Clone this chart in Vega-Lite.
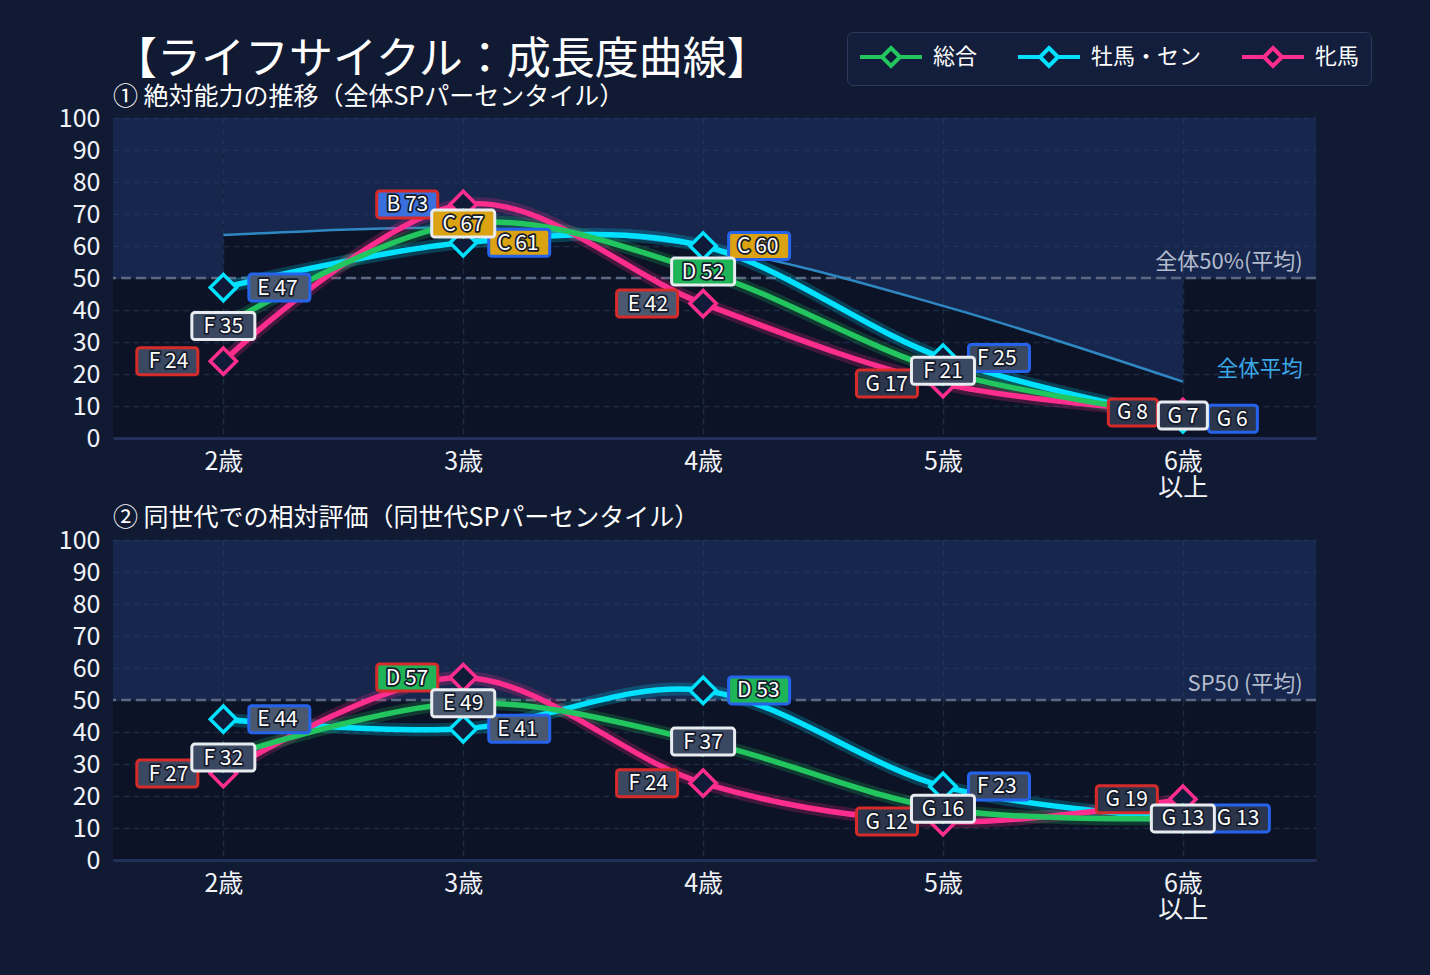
{
  "$schema": "https://vega.github.io/schema/vega-lite/v6.json",
  "background": "#111a33",
  "padding": {"left": 58, "top": 31, "right": 63, "bottom": 53},
  "autosize": {"type": "pad"},
  "config": {
    "font": "Noto Sans CJK JP",
    "view": {"stroke": null, "fill": "#0c1326"},
    "axis": {
      "gridColor": "#1d2a45", "gridDash": [6, 4], "gridWidth": 1.5, "labelOverlap": false,
      "ticks": false, "labelColor": "#f2f4f8", "labelFontSize": 25, "labelFont": "Noto Sans CJK JP", "title": null
    }
  },
  "datasets": {
    "abs": [
      {"age": 2, "series": "牡馬・セン", "grade": "E", "v": 47},
      {"age": 3, "series": "牡馬・セン", "grade": "C", "v": 61},
      {"age": 4, "series": "牡馬・セン", "grade": "C", "v": 60},
      {"age": 5, "series": "牡馬・セン", "grade": "F", "v": 25},
      {"age": 6, "series": "牡馬・セン", "grade": "G", "v": 6},
      {"age": 2, "series": "牝馬", "grade": "F", "v": 24},
      {"age": 3, "series": "牝馬", "grade": "B", "v": 73},
      {"age": 4, "series": "牝馬", "grade": "E", "v": 42},
      {"age": 5, "series": "牝馬", "grade": "G", "v": 17},
      {"age": 6, "series": "牝馬", "grade": "G", "v": 8},
      {"age": 2, "series": "総合", "grade": "F", "v": 35},
      {"age": 3, "series": "総合", "grade": "C", "v": 67},
      {"age": 4, "series": "総合", "grade": "D", "v": 52},
      {"age": 5, "series": "総合", "grade": "F", "v": 21},
      {"age": 6, "series": "総合", "grade": "G", "v": 7}
    ],
    "rel": [
      {"age": 2, "series": "牡馬・セン", "grade": "E", "v": 44},
      {"age": 3, "series": "牡馬・セン", "grade": "E", "v": 41},
      {"age": 4, "series": "牡馬・セン", "grade": "D", "v": 53},
      {"age": 5, "series": "牡馬・セン", "grade": "F", "v": 23},
      {"age": 6, "series": "牡馬・セン", "grade": "G", "v": 13},
      {"age": 2, "series": "牝馬", "grade": "F", "v": 27},
      {"age": 3, "series": "牝馬", "grade": "D", "v": 57},
      {"age": 4, "series": "牝馬", "grade": "F", "v": 24},
      {"age": 5, "series": "牝馬", "grade": "G", "v": 12},
      {"age": 6, "series": "牝馬", "grade": "G", "v": 19},
      {"age": 2, "series": "総合", "grade": "F", "v": 32},
      {"age": 3, "series": "総合", "grade": "E", "v": 49},
      {"age": 4, "series": "総合", "grade": "F", "v": 37},
      {"age": 5, "series": "総合", "grade": "G", "v": 16},
      {"age": 6, "series": "総合", "grade": "G", "v": 13}
    ],
    "avg": [
      {"age": 2, "avg": 63.4},
      {"age": 3, "avg": 65.6},
      {"age": 4, "avg": 59.8},
      {"age": 5, "avg": 41.3},
      {"age": 6, "avg": 17.6}
    ],
    "one": [{}]
  },
  "spacing": 6,
  "resolve": {"scale": {"color": "independent"}, "legend": {"color": "independent"}},
  "vconcat": [
    {
      "width": 1203, "height": 320,
      "title": {
        "text": "【ライフサイクル：成長度曲線】",
        "subtitle": "① 絶対能力の推移（全体SPパーセンタイル）",
        "anchor": "start", "frame": "group", "fontSize": 44, "fontWeight": "normal", "color": "#ffffff",
        "subtitleFontSize": 25, "subtitleColor": "#ffffff", "subtitlePadding": 2, "offset": -78, "font": "Noto Sans CJK JP", "subtitleFont": "Noto Sans CJK JP"
      },
      "data": {"name": "abs"},
      "layer": [
        {
          "data": {"name": "one"},
          "mark": {"type": "rect", "fill": "#203972", "opacity": 0.5},
          "encoding": {
            "x": {"datum": 1.54, "type": "quantitative", "title": null, "scale": {"domain": [1.54, 6.555], "nice": false, "zero": false},
                  "axis": {"values": [2, 3, 4, 5, 6], "labelExpr": "datum.value == 6 ? ['6歳', '以上'] : datum.value + '歳'", "grid": true, "domainColor": "#22305a", "domainWidth": 3, "labelPadding": 11, "labelLineHeight": 26}},
            "x2": {"datum": 2},
            "y": {"datum": 50, "type": "quantitative", "title": null, "scale": {"domain": [0, 100], "nice": false},
                  "axis": {"values": [0, 10, 20, 30, 40, 50, 60, 70, 80, 90, 100], "tickCount": 11, "labelOverlap": false, "grid": true, "domain": false, "labelPadding": 13}},
            "y2": {"datum": 100}
          }
        },
        {
          "data": {"name": "one"},
          "mark": {"type": "rect", "fill": "#203972", "opacity": 0.5},
          "encoding": {"x": {"datum": 6, "type": "quantitative"}, "x2": {"datum": 6.555}, "y": {"datum": 50, "type": "quantitative"}, "y2": {"datum": 100}}
        },
        {
          "data": {"name": "avg"},
          "mark": {"type": "area", "interpolate": "cardinal", "tension": 0, "fill": "#203972", "opacity": 0.5},
          "encoding": {"x": {"field": "age", "type": "quantitative", "title": null}, "y": {"field": "avg", "type": "quantitative", "title": null}, "y2": {"datum": 100}}
        },
        {
          "data": {"name": "one"},
          "mark": {"type": "rule", "stroke": "#5c6782", "strokeWidth": 2.5, "strokeDash": [10, 5]},
          "encoding": {"y": {"datum": 50, "type": "quantitative"}}
        },
        {
          "data": {"name": "avg"},
          "mark": {"type": "line", "interpolate": "cardinal", "tension": 0, "stroke": "#2f88c2", "strokeWidth": 2.5},
          "encoding": {"x": {"field": "age", "type": "quantitative", "title": null}, "y": {"field": "avg", "type": "quantitative", "title": null}}
        },
        {
          "data": {"name": "one"},
          "mark": {"type": "text", "text": "全体50%(平均)", "align": "right", "baseline": "bottom", "dy": -4, "fontSize": 22, "color": "#b3bccd"},
          "encoding": {"x": {"datum": 6.5, "type": "quantitative"}, "y": {"datum": 50, "type": "quantitative"}}
        },
        {
          "data": {"name": "one"},
          "mark": {"type": "text", "text": "全体平均", "align": "right", "baseline": "middle", "fontSize": 21.5, "color": "#3aa8e6"},
          "encoding": {"x": {"datum": 6.5, "type": "quantitative"}, "y": {"datum": 21.3, "type": "quantitative"}}
        },
        {
          "mark": {"type": "line", "interpolate": "cardinal", "tension": 0, "strokeWidth": 13, "opacity": 0.22, "strokeCap": "round"},
          "encoding": {
            "x": {"field": "age", "type": "quantitative", "title": null},
            "y": {"field": "v", "type": "quantitative", "title": null},
            "color": {"field": "series", "type": "nominal", "scale": {"domain": ["総合", "牡馬・セン", "牝馬"], "range": ["#22c55e", "#00e1ff", "#ff2d8e"]},
              "legend": {"orient": "none", "legendX": 734, "legendY": -86, "direction": "horizontal", "columns": 3, "title": null,
                "symbolType": "M-1,0H0.833M2.333,0H4.167M1.583,-0.75L2.333,0L1.583,0.75L0.833,0Z",
                "symbolSize": 576, "symbolStrokeWidth": 4, "symbolFillColor": "#0f1b38", "symbolOpacity": 1,
                "labelFontSize": 22, "labelColor": "#ffffff", "labelFont": "Noto Sans CJK JP", "labelOffset": 47, "columnPadding": 32, "padding": 11,
                "fillColor": "#131e3c", "strokeColor": "#2d3a5c", "cornerRadius": 6}}
          }
        },
        {
          "mark": {"type": "line", "interpolate": "cardinal", "tension": 0, "strokeWidth": 5.5, "strokeCap": "round"},
          "encoding": {
            "x": {"field": "age", "type": "quantitative", "title": null},
            "y": {"field": "v", "type": "quantitative", "title": null},
            "color": {"field": "series", "type": "nominal", "scale": {"domain": ["総合", "牡馬・セン", "牝馬"], "range": ["#22c55e", "#00e1ff", "#ff2d8e"]},
              "legend": {"orient": "none", "legendX": 734, "legendY": -86, "direction": "horizontal", "columns": 3, "title": null,
                "symbolType": "M-1,0H0.833M2.333,0H4.167M1.583,-0.75L2.333,0L1.583,0.75L0.833,0Z",
                "symbolSize": 576, "symbolStrokeWidth": 4, "symbolFillColor": "#0f1b38", "symbolOpacity": 1,
                "labelFontSize": 22, "labelColor": "#ffffff", "labelFont": "Noto Sans CJK JP", "labelOffset": 47, "columnPadding": 32, "padding": 11,
                "fillColor": "#131e3c", "strokeColor": "#2d3a5c", "cornerRadius": 6}}
          }
        },
        {
          "mark": {"type": "point", "shape": "diamond", "filled": false, "fill": "#0f1b38", "fillOpacity": 1, "opacity": 1, "size": 690, "strokeWidth": 3.5},
          "encoding": {
            "x": {"field": "age", "type": "quantitative", "title": null},
            "y": {"field": "v", "type": "quantitative", "title": null},
            "color": {"field": "series", "type": "nominal", "scale": {"domain": ["総合", "牡馬・セン", "牝馬"], "range": ["#22c55e", "#00e1ff", "#ff2d8e"]},
              "legend": {"orient": "none", "legendX": 734, "legendY": -86, "direction": "horizontal", "columns": 3, "title": null,
                "symbolType": "M-1,0H0.833M2.333,0H4.167M1.583,-0.75L2.333,0L1.583,0.75L0.833,0Z",
                "symbolSize": 576, "symbolStrokeWidth": 4, "symbolFillColor": "#0f1b38", "symbolOpacity": 1,
                "labelFontSize": 22, "labelColor": "#ffffff", "labelFont": "Noto Sans CJK JP", "labelOffset": 47, "columnPadding": 32, "padding": 11,
                "fillColor": "#131e3c", "strokeColor": "#2d3a5c", "cornerRadius": 6}}
          }
        },
        {
          "transform": [
            {"calculate": "datum.grade + ' ' + datum.v", "as": "lbl"},
            {"calculate": "datum.series === '総合' ? 'C' : (datum.series === '牝馬' ? 'L' : 'R')", "as": "side"},
            {"calculate": "datum.side + '-' + length(datum.lbl)", "as": "key"},
            {"filter": "datum.side !== 'C'"}
          ],
          "mark": {"type": "point", "size": 400, "filled": true, "opacity": 1, "strokeWidth": 3},
          "encoding": {
            "x": {"field": "age", "type": "quantitative", "title": null},
            "y": {"field": "v", "type": "quantitative", "title": null},
            "shape": {"field": "key", "type": "nominal", "legend": null, "scale": {"domain": ["L-3", "L-4", "C-3", "C-4", "R-3", "R-4"], "range": [
              "M-7.15,-1.35H-2.85A0.3,0.3 0 0 1 -2.55,-1.05V1.05A0.3,0.3 0 0 1 -2.85,1.35H-7.15A0.3,0.3 0 0 1 -7.45,1.05V-1.05A0.3,0.3 0 0 1 -7.15,-1.35Z",
              "M-8.35,-1.35H-2.85A0.3,0.3 0 0 1 -2.55,-1.05V1.05A0.3,0.3 0 0 1 -2.85,1.35H-8.35A0.3,0.3 0 0 1 -8.65,1.05V-1.05A0.3,0.3 0 0 1 -8.35,-1.35Z",
              "M-2.15,-1.35H2.15A0.3,0.3 0 0 1 2.45,-1.05V1.05A0.3,0.3 0 0 1 2.15,1.35H-2.15A0.3,0.3 0 0 1 -2.45,1.05V-1.05A0.3,0.3 0 0 1 -2.15,-1.35Z",
              "M-2.85,-1.35H2.85A0.3,0.3 0 0 1 3.15,-1.05V1.05A0.3,0.3 0 0 1 2.85,1.35H-2.85A0.3,0.3 0 0 1 -3.15,1.05V-1.05A0.3,0.3 0 0 1 -2.85,-1.35Z",
              "M2.85,-1.35H7.15A0.3,0.3 0 0 1 7.45,-1.05V1.05A0.3,0.3 0 0 1 7.15,1.35H2.85A0.3,0.3 0 0 1 2.55,1.05V-1.05A0.3,0.3 0 0 1 2.85,-1.35Z",
              "M2.85,-1.35H8.35A0.3,0.3 0 0 1 8.65,-1.05V1.05A0.3,0.3 0 0 1 8.35,1.35H2.85A0.3,0.3 0 0 1 2.55,1.05V-1.05A0.3,0.3 0 0 1 2.85,-1.35Z"]}},
            "fill": {"field": "grade", "type": "nominal", "legend": null, "scale": {"domain": ["B", "C", "D", "E", "F", "G"], "range": ["#3a6fe0", "#dba312", "#1fb457", "#4a5870", "#3b4862", "#2b364c"]}},
            "stroke": {"field": "series", "type": "nominal", "legend": null, "scale": {"domain": ["総合", "牡馬・セン", "牝馬"], "range": ["#e8ebf0", "#2563eb", "#d62b2b"]}}
          }
        },
        {
          "transform": [
            {"calculate": "datum.grade + ' ' + datum.v", "as": "lbl"},
            {"filter": "datum.series === '牝馬'"}
          ],
          "mark": {"type": "text", "align": "right", "dx": -35, "baseline": "middle", "dy": 1, "fontSize": 21, "fill": "#151b2a", "stroke": "#151b2a", "strokeWidth": 3.5, "strokeJoin": "round"},
          "encoding": {"x": {"field": "age", "type": "quantitative", "title": null}, "y": {"field": "v", "type": "quantitative", "title": null}, "text": {"field": "lbl"}}
        },
        {
          "transform": [
            {"calculate": "datum.grade + ' ' + datum.v", "as": "lbl"},
            {"filter": "datum.series === '牝馬'"}
          ],
          "mark": {"type": "text", "align": "right", "dx": -35, "baseline": "middle", "dy": 1, "fontSize": 21, "color": "#ffffff"},
          "encoding": {"x": {"field": "age", "type": "quantitative", "title": null}, "y": {"field": "v", "type": "quantitative", "title": null}, "text": {"field": "lbl"}}
        },
        {
          "transform": [
            {"calculate": "datum.grade + ' ' + datum.v", "as": "lbl"},
            {"filter": "datum.series === '牡馬・セン'"}
          ],
          "mark": {"type": "text", "align": "left", "dx": 34, "baseline": "middle", "dy": 1, "fontSize": 21, "fill": "#151b2a", "stroke": "#151b2a", "strokeWidth": 3.5, "strokeJoin": "round"},
          "encoding": {"x": {"field": "age", "type": "quantitative", "title": null}, "y": {"field": "v", "type": "quantitative", "title": null}, "text": {"field": "lbl"}}
        },
        {
          "transform": [
            {"calculate": "datum.grade + ' ' + datum.v", "as": "lbl"},
            {"filter": "datum.series === '牡馬・セン'"}
          ],
          "mark": {"type": "text", "align": "left", "dx": 34, "baseline": "middle", "dy": 1, "fontSize": 21, "color": "#ffffff"},
          "encoding": {"x": {"field": "age", "type": "quantitative", "title": null}, "y": {"field": "v", "type": "quantitative", "title": null}, "text": {"field": "lbl"}}
        },
        {
          "transform": [
            {"calculate": "datum.grade + ' ' + datum.v", "as": "lbl"},
            {"calculate": "datum.series === '総合' ? 'C' : (datum.series === '牝馬' ? 'L' : 'R')", "as": "side"},
            {"calculate": "datum.side + '-' + length(datum.lbl)", "as": "key"},
            {"filter": "datum.side === 'C'"}
          ],
          "mark": {"type": "point", "size": 400, "filled": true, "opacity": 1, "strokeWidth": 3},
          "encoding": {
            "x": {"field": "age", "type": "quantitative", "title": null},
            "y": {"field": "v", "type": "quantitative", "title": null},
            "shape": {"field": "key", "type": "nominal", "legend": null},
            "fill": {"field": "grade", "type": "nominal", "legend": null},
            "stroke": {"field": "series", "type": "nominal", "legend": null}
          }
        },
        {
          "transform": [
            {"calculate": "datum.grade + ' ' + datum.v", "as": "lbl"},
            {"filter": "datum.series === '総合'"}
          ],
          "mark": {"type": "text", "align": "center", "baseline": "middle", "dy": 1, "fontSize": 21, "fill": "#151b2a", "stroke": "#151b2a", "strokeWidth": 3.5, "strokeJoin": "round"},
          "encoding": {"x": {"field": "age", "type": "quantitative", "title": null}, "y": {"field": "v", "type": "quantitative", "title": null}, "text": {"field": "lbl"}}
        },
        {
          "transform": [
            {"calculate": "datum.grade + ' ' + datum.v", "as": "lbl"},
            {"filter": "datum.series === '総合'"}
          ],
          "mark": {"type": "text", "align": "center", "baseline": "middle", "dy": 1, "fontSize": 21, "color": "#ffffff"},
          "encoding": {"x": {"field": "age", "type": "quantitative", "title": null}, "y": {"field": "v", "type": "quantitative", "title": null}, "text": {"field": "lbl"}}
        }
      ]
    },
    {
      "width": 1203, "height": 320,
      "title": {
        "text": "② 同世代での相対評価（同世代SPパーセンタイル）",
        "anchor": "start", "frame": "group", "fontSize": 25, "fontWeight": "normal", "color": "#ffffff", "offset": -3, "font": "Noto Sans CJK JP"
      },
      "data": {"name": "rel"},
      "layer": [
        {
          "data": {"name": "one"},
          "mark": {"type": "rect", "fill": "#203972", "opacity": 0.5},
          "encoding": {
            "x": {"datum": 1.54, "type": "quantitative", "title": null, "scale": {"domain": [1.54, 6.555], "nice": false, "zero": false},
                  "axis": {"values": [2, 3, 4, 5, 6], "labelExpr": "datum.value == 6 ? ['6歳', '以上'] : datum.value + '歳'", "grid": true, "domainColor": "#22305a", "domainWidth": 3, "labelPadding": 11, "labelLineHeight": 26}},
            "x2": {"datum": 6.555},
            "y": {"datum": 50, "type": "quantitative", "title": null, "scale": {"domain": [0, 100], "nice": false},
                  "axis": {"values": [0, 10, 20, 30, 40, 50, 60, 70, 80, 90, 100], "tickCount": 11, "labelOverlap": false, "grid": true, "domain": false, "labelPadding": 13}},
            "y2": {"datum": 100}
          }
        },
        {
          "data": {"name": "one"},
          "mark": {"type": "rule", "stroke": "#5c6782", "strokeWidth": 2.5, "strokeDash": [10, 5]},
          "encoding": {"y": {"datum": 50, "type": "quantitative"}}
        },
        {
          "data": {"name": "one"},
          "mark": {"type": "text", "text": "SP50 (平均)", "align": "right", "baseline": "bottom", "dy": -4, "fontSize": 22, "color": "#b3bccd"},
          "encoding": {"x": {"datum": 6.5, "type": "quantitative"}, "y": {"datum": 50, "type": "quantitative"}}
        },
        {
          "mark": {"type": "line", "interpolate": "cardinal", "tension": 0, "strokeWidth": 13, "opacity": 0.22, "strokeCap": "round"},
          "encoding": {
            "x": {"field": "age", "type": "quantitative", "title": null},
            "y": {"field": "v", "type": "quantitative", "title": null},
            "color": {"field": "series", "type": "nominal", "scale": {"domain": ["総合", "牡馬・セン", "牝馬"], "range": ["#22c55e", "#00e1ff", "#ff2d8e"]}, "legend": null}
          }
        },
        {
          "mark": {"type": "line", "interpolate": "cardinal", "tension": 0, "strokeWidth": 5.5, "strokeCap": "round"},
          "encoding": {
            "x": {"field": "age", "type": "quantitative", "title": null},
            "y": {"field": "v", "type": "quantitative", "title": null},
            "color": {"field": "series", "type": "nominal", "scale": {"domain": ["総合", "牡馬・セン", "牝馬"], "range": ["#22c55e", "#00e1ff", "#ff2d8e"]}, "legend": null}
          }
        },
        {
          "mark": {"type": "point", "shape": "diamond", "filled": false, "fill": "#0f1b38", "fillOpacity": 1, "opacity": 1, "size": 690, "strokeWidth": 3.5},
          "encoding": {
            "x": {"field": "age", "type": "quantitative", "title": null},
            "y": {"field": "v", "type": "quantitative", "title": null},
            "color": {"field": "series", "type": "nominal", "scale": {"domain": ["総合", "牡馬・セン", "牝馬"], "range": ["#22c55e", "#00e1ff", "#ff2d8e"]}, "legend": null}
          }
        },
        {
          "transform": [
            {"calculate": "datum.grade + ' ' + datum.v", "as": "lbl"},
            {"calculate": "datum.series === '総合' ? 'C' : (datum.series === '牝馬' ? 'L' : 'R')", "as": "side"},
            {"calculate": "datum.side + '-' + length(datum.lbl)", "as": "key"},
            {"filter": "datum.side !== 'C'"}
          ],
          "mark": {"type": "point", "size": 400, "filled": true, "opacity": 1, "strokeWidth": 3},
          "encoding": {
            "x": {"field": "age", "type": "quantitative", "title": null},
            "y": {"field": "v", "type": "quantitative", "title": null},
            "shape": {"field": "key", "type": "nominal", "legend": null, "scale": {"domain": ["L-3", "L-4", "C-3", "C-4", "R-3", "R-4"], "range": [
              "M-7.15,-1.35H-2.85A0.3,0.3 0 0 1 -2.55,-1.05V1.05A0.3,0.3 0 0 1 -2.85,1.35H-7.15A0.3,0.3 0 0 1 -7.45,1.05V-1.05A0.3,0.3 0 0 1 -7.15,-1.35Z",
              "M-8.35,-1.35H-2.85A0.3,0.3 0 0 1 -2.55,-1.05V1.05A0.3,0.3 0 0 1 -2.85,1.35H-8.35A0.3,0.3 0 0 1 -8.65,1.05V-1.05A0.3,0.3 0 0 1 -8.35,-1.35Z",
              "M-2.15,-1.35H2.15A0.3,0.3 0 0 1 2.45,-1.05V1.05A0.3,0.3 0 0 1 2.15,1.35H-2.15A0.3,0.3 0 0 1 -2.45,1.05V-1.05A0.3,0.3 0 0 1 -2.15,-1.35Z",
              "M-2.85,-1.35H2.85A0.3,0.3 0 0 1 3.15,-1.05V1.05A0.3,0.3 0 0 1 2.85,1.35H-2.85A0.3,0.3 0 0 1 -3.15,1.05V-1.05A0.3,0.3 0 0 1 -2.85,-1.35Z",
              "M2.85,-1.35H7.15A0.3,0.3 0 0 1 7.45,-1.05V1.05A0.3,0.3 0 0 1 7.15,1.35H2.85A0.3,0.3 0 0 1 2.55,1.05V-1.05A0.3,0.3 0 0 1 2.85,-1.35Z",
              "M2.85,-1.35H8.35A0.3,0.3 0 0 1 8.65,-1.05V1.05A0.3,0.3 0 0 1 8.35,1.35H2.85A0.3,0.3 0 0 1 2.55,1.05V-1.05A0.3,0.3 0 0 1 2.85,-1.35Z"]}},
            "fill": {"field": "grade", "type": "nominal", "legend": null, "scale": {"domain": ["B", "C", "D", "E", "F", "G"], "range": ["#3a6fe0", "#dba312", "#1fb457", "#4a5870", "#3b4862", "#2b364c"]}},
            "stroke": {"field": "series", "type": "nominal", "legend": null, "scale": {"domain": ["総合", "牡馬・セン", "牝馬"], "range": ["#e8ebf0", "#2563eb", "#d62b2b"]}}
          }
        },
        {
          "transform": [
            {"calculate": "datum.grade + ' ' + datum.v", "as": "lbl"},
            {"filter": "datum.series === '牝馬'"}
          ],
          "mark": {"type": "text", "align": "right", "dx": -35, "baseline": "middle", "dy": 1, "fontSize": 21, "fill": "#151b2a", "stroke": "#151b2a", "strokeWidth": 3.5, "strokeJoin": "round"},
          "encoding": {"x": {"field": "age", "type": "quantitative", "title": null}, "y": {"field": "v", "type": "quantitative", "title": null}, "text": {"field": "lbl"}}
        },
        {
          "transform": [
            {"calculate": "datum.grade + ' ' + datum.v", "as": "lbl"},
            {"filter": "datum.series === '牝馬'"}
          ],
          "mark": {"type": "text", "align": "right", "dx": -35, "baseline": "middle", "dy": 1, "fontSize": 21, "color": "#ffffff"},
          "encoding": {"x": {"field": "age", "type": "quantitative", "title": null}, "y": {"field": "v", "type": "quantitative", "title": null}, "text": {"field": "lbl"}}
        },
        {
          "transform": [
            {"calculate": "datum.grade + ' ' + datum.v", "as": "lbl"},
            {"filter": "datum.series === '牡馬・セン'"}
          ],
          "mark": {"type": "text", "align": "left", "dx": 34, "baseline": "middle", "dy": 1, "fontSize": 21, "fill": "#151b2a", "stroke": "#151b2a", "strokeWidth": 3.5, "strokeJoin": "round"},
          "encoding": {"x": {"field": "age", "type": "quantitative", "title": null}, "y": {"field": "v", "type": "quantitative", "title": null}, "text": {"field": "lbl"}}
        },
        {
          "transform": [
            {"calculate": "datum.grade + ' ' + datum.v", "as": "lbl"},
            {"filter": "datum.series === '牡馬・セン'"}
          ],
          "mark": {"type": "text", "align": "left", "dx": 34, "baseline": "middle", "dy": 1, "fontSize": 21, "color": "#ffffff"},
          "encoding": {"x": {"field": "age", "type": "quantitative", "title": null}, "y": {"field": "v", "type": "quantitative", "title": null}, "text": {"field": "lbl"}}
        },
        {
          "transform": [
            {"calculate": "datum.grade + ' ' + datum.v", "as": "lbl"},
            {"calculate": "datum.series === '総合' ? 'C' : (datum.series === '牝馬' ? 'L' : 'R')", "as": "side"},
            {"calculate": "datum.side + '-' + length(datum.lbl)", "as": "key"},
            {"filter": "datum.side === 'C'"}
          ],
          "mark": {"type": "point", "size": 400, "filled": true, "opacity": 1, "strokeWidth": 3},
          "encoding": {
            "x": {"field": "age", "type": "quantitative", "title": null},
            "y": {"field": "v", "type": "quantitative", "title": null},
            "shape": {"field": "key", "type": "nominal", "legend": null},
            "fill": {"field": "grade", "type": "nominal", "legend": null},
            "stroke": {"field": "series", "type": "nominal", "legend": null}
          }
        },
        {
          "transform": [
            {"calculate": "datum.grade + ' ' + datum.v", "as": "lbl"},
            {"filter": "datum.series === '総合'"}
          ],
          "mark": {"type": "text", "align": "center", "baseline": "middle", "dy": 1, "fontSize": 21, "fill": "#151b2a", "stroke": "#151b2a", "strokeWidth": 3.5, "strokeJoin": "round"},
          "encoding": {"x": {"field": "age", "type": "quantitative", "title": null}, "y": {"field": "v", "type": "quantitative", "title": null}, "text": {"field": "lbl"}}
        },
        {
          "transform": [
            {"calculate": "datum.grade + ' ' + datum.v", "as": "lbl"},
            {"filter": "datum.series === '総合'"}
          ],
          "mark": {"type": "text", "align": "center", "baseline": "middle", "dy": 1, "fontSize": 21, "color": "#ffffff"},
          "encoding": {"x": {"field": "age", "type": "quantitative", "title": null}, "y": {"field": "v", "type": "quantitative", "title": null}, "text": {"field": "lbl"}}
        }
      ]
    }
  ]
}
